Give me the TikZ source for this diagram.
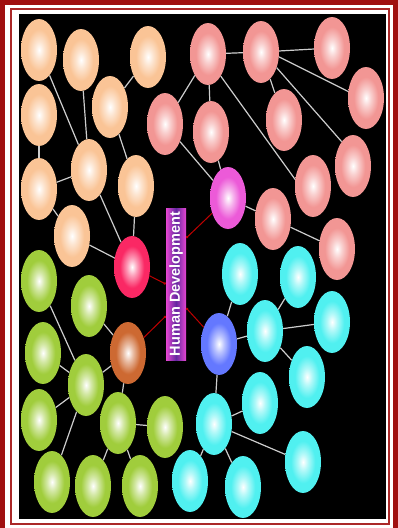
\documentclass[tikz,border=0pt]{standalone}
\usepackage{fontspec}
\setmainfont{Liberation Sans}
\usepackage{graphicx}
\usetikzlibrary{shapes.geometric, arrows.meta}

\definecolor{framered}{RGB}{160,16,16}
\definecolor{bubpeach}{RGB}{250,196,150}
\definecolor{bubrose}{RGB}{242,150,148}
\definecolor{bubaqua}{RGB}{80,240,240}
\definecolor{bubleaf}{RGB}{160,205,60}
\definecolor{hubredc}{RGB}{250,40,100}
\definecolor{hubpinkc}{RGB}{236,90,216}
\definecolor{hubbluec}{RGB}{100,120,255}
\definecolor{hubbrownc}{RGB}{205,105,50}
\definecolor{linkgray}{RGB}{205,205,205}
\definecolor{titlepurple}{RGB}{100,40,160}
\definecolor{titlepink}{RGB}{230,70,210}
\colorlet{bubcol}{bubpeach}

% white core, tinted ring
\pgfdeclareradialshading[bubcol]{bubshade}{\pgfpointorigin}{color(0bp)=(white); color(7bp)=(bubcol!45!white); color(17bp)=(bubcol); color(50bp)=(bubcol)}

\begin{document}
\begin{tikzpicture}[
    x=1pt, y=-1pt,
    % Bubbles
    bubble/.style={ellipse, minimum width=36pt, minimum height=62pt, inner sep=0pt},
    tint/.code={\colorlet{bubcol}{#1}},
    peach/.style={bubble, tint=bubpeach, shading=bubshade},
    rose/.style={bubble, tint=bubrose, shading=bubshade},
    aqua/.style={bubble, tint=bubaqua, shading=bubshade},
    leaf/.style={bubble, tint=bubleaf, shading=bubshade},
    hub/.style={bubble, tint=#1, shading=bubshade},
    title/.style={rectangle, minimum width=20pt, minimum height=152pt, inner sep=0pt, left color=titlepink, right color=titlepink, middle color=titlepurple, text=white, font=\bfseries\fontsize{14.5pt}{14.5pt}\selectfont},
    % Connectors
    link/.style={draw=linkgray, line width=1.2pt},
    hubline/.style={draw=red!75!black, line width=1pt, -{Circle[length=2.5pt, fill=black!70]}},
]

\useasboundingbox (0,0) rectangle (398,528);
\clip (0,0) rectangle (398,528);

% Frame
\fill[white] (0,0) rectangle (398,528);
\draw[framered, line width=5pt] (2.5,2.5) rectangle (395.5,535);
\draw[framered!90, line width=2pt] (11,8.5) rectangle (388.5,524);
\fill[black] (19,14) rectangle (386,519);

% Centre
\node[title] (hd) at (176,284) {\rotatebox{90}{Human Development}};

% 1. Peach cluster (top left)
\node[peach] (pe1) at (39,50) {};
\node[peach] (pe2) at (81,60) {};
\node[peach] (pe3) at (148,57) {};
\node[peach] (pe4) at (110,107) {};
\node[peach] (pe5) at (39,115) {};
\node[peach] (pe6) at (89,170) {};
\node[peach] (pe7) at (39,189) {};
\node[peach] (pe8) at (136,186) {};
\node[peach] (pe9) at (72,236) {};
\node[hub=hubredc] (hubred) at (132,267) {};

% 2. Rose cluster (top right)
\node[rose] (ro1) at (165,124) {};
\node[rose] (ro2) at (208,54) {};
\node[rose] (ro3) at (261,52) {};
\node[rose] (ro4) at (332,48) {};
\node[rose] (ro5) at (366,98) {};
\node[rose] (ro6) at (284,120) {};
\node[rose] (ro7) at (211,132) {};
\node[rose] (ro8) at (353,166) {};
\node[rose] (ro9) at (313,186) {};
\node[rose] (ro10) at (273,219) {};
\node[rose] (ro11) at (337,249) {};
\node[hub=hubpinkc] (hubpink) at (228,198) {};

% 3. Aqua cluster (bottom right)
\node[aqua] (aq1) at (240,274) {};
\node[aqua] (aq2) at (298,277) {};
\node[aqua] (aq3) at (265,331) {};
\node[aqua] (aq4) at (332,322) {};
\node[aqua] (aq5) at (307,377) {};
\node[aqua] (aq6) at (260,403) {};
\node[aqua] (aq7) at (214,424) {};
\node[aqua] (aq8) at (303,462) {};
\node[aqua] (aq9) at (243,487) {};
\node[aqua] (aq10) at (190,481) {};
\node[hub=hubbluec] (hubblue) at (219,344) {};

% 4. Leaf cluster (bottom left)
\node[leaf] (le1) at (39,281) {};
\node[leaf] (le2) at (89,306) {};
\node[leaf] (le3) at (43,353) {};
\node[leaf] (le4) at (86,385) {};
\node[leaf] (le5) at (39,420) {};
\node[leaf] (le6) at (118,423) {};
\node[leaf] (le7) at (165,427) {};
\node[leaf] (le8) at (52,482) {};
\node[leaf] (le9) at (93,486) {};
\node[leaf] (le10) at (140,486) {};
\node[hub=hubbrownc] (hubbrown) at (128,353) {};

% Connections
% Hubs to centre
\draw[hubline] (hubred) -- (hd.west);
\draw[hubline] (hubbrown) -- ([yshift=-32pt]hd.west);
\draw[hubline] (hubpink) -- ([yshift=46pt]hd.east);
\draw[hubline] (hubblue) -- ([yshift=-24pt]hd.east);

% Peach links
\draw[link] (pe1) -- (pe6);
\draw[link] (pe2) -- (pe6);
\draw[link] (pe3) -- (pe4);
\draw[link] (pe4) -- (pe8);
\draw[link] (pe5) -- (pe7);
\draw[link] (pe7) -- (pe6);
\draw[link] (pe7) -- (pe9);
\draw[link] (pe6) -- (hubred);
\draw[link] (pe8) -- (hubred);
\draw[link] (pe9) -- (hubred);

% Rose links
\draw[link] (ro1) -- (ro2);
\draw[link] (ro1) -- (hubpink);
\draw[link] (ro2) -- (ro3);
\draw[link] (ro2) -- (ro7);
\draw[link] (ro2.-60) -- (ro9.160);
\draw[link] (ro3) -- (ro4);
\draw[link] (ro3.-15) -- (ro5.160);
\draw[link] (ro3) -- (ro6);
\draw[link] (ro3.-45) -- (ro8.115);
\draw[link] (ro7) -- (hubpink);
\draw[link] (hubpink) -- (ro10);
\draw[link] (ro10) -- (ro11);

% Aqua links
\draw[link] (aq1) -- (hubblue);
\draw[link] (aq2) -- (aq3);
\draw[link] (hubblue) -- (aq3);
\draw[link] (aq3) -- (aq4);
\draw[link] (aq3) -- (aq5);
\draw[link] (hubblue) -- (aq7);
\draw[link] (aq7) -- (aq6);
\draw[link] (aq7) -- (aq8);
\draw[link] (aq7) -- (aq9);
\draw[link] (aq7) -- (aq10);

% Leaf links
\draw[link] (le1) -- (le4);
\draw[link] (le2) -- (hubbrown);
\draw[link] (le3) -- (le4);
\draw[link] (le4) -- (le5);
\draw[link] (le4) -- (hubbrown);
\draw[link] (hubbrown) -- (le6);
\draw[link] (le4) -- (le8);
\draw[link] (le6) -- (le7);
\draw[link] (le6) -- (le9);
\draw[link] (le6) -- (le10);

\end{tikzpicture}
\end{document}
